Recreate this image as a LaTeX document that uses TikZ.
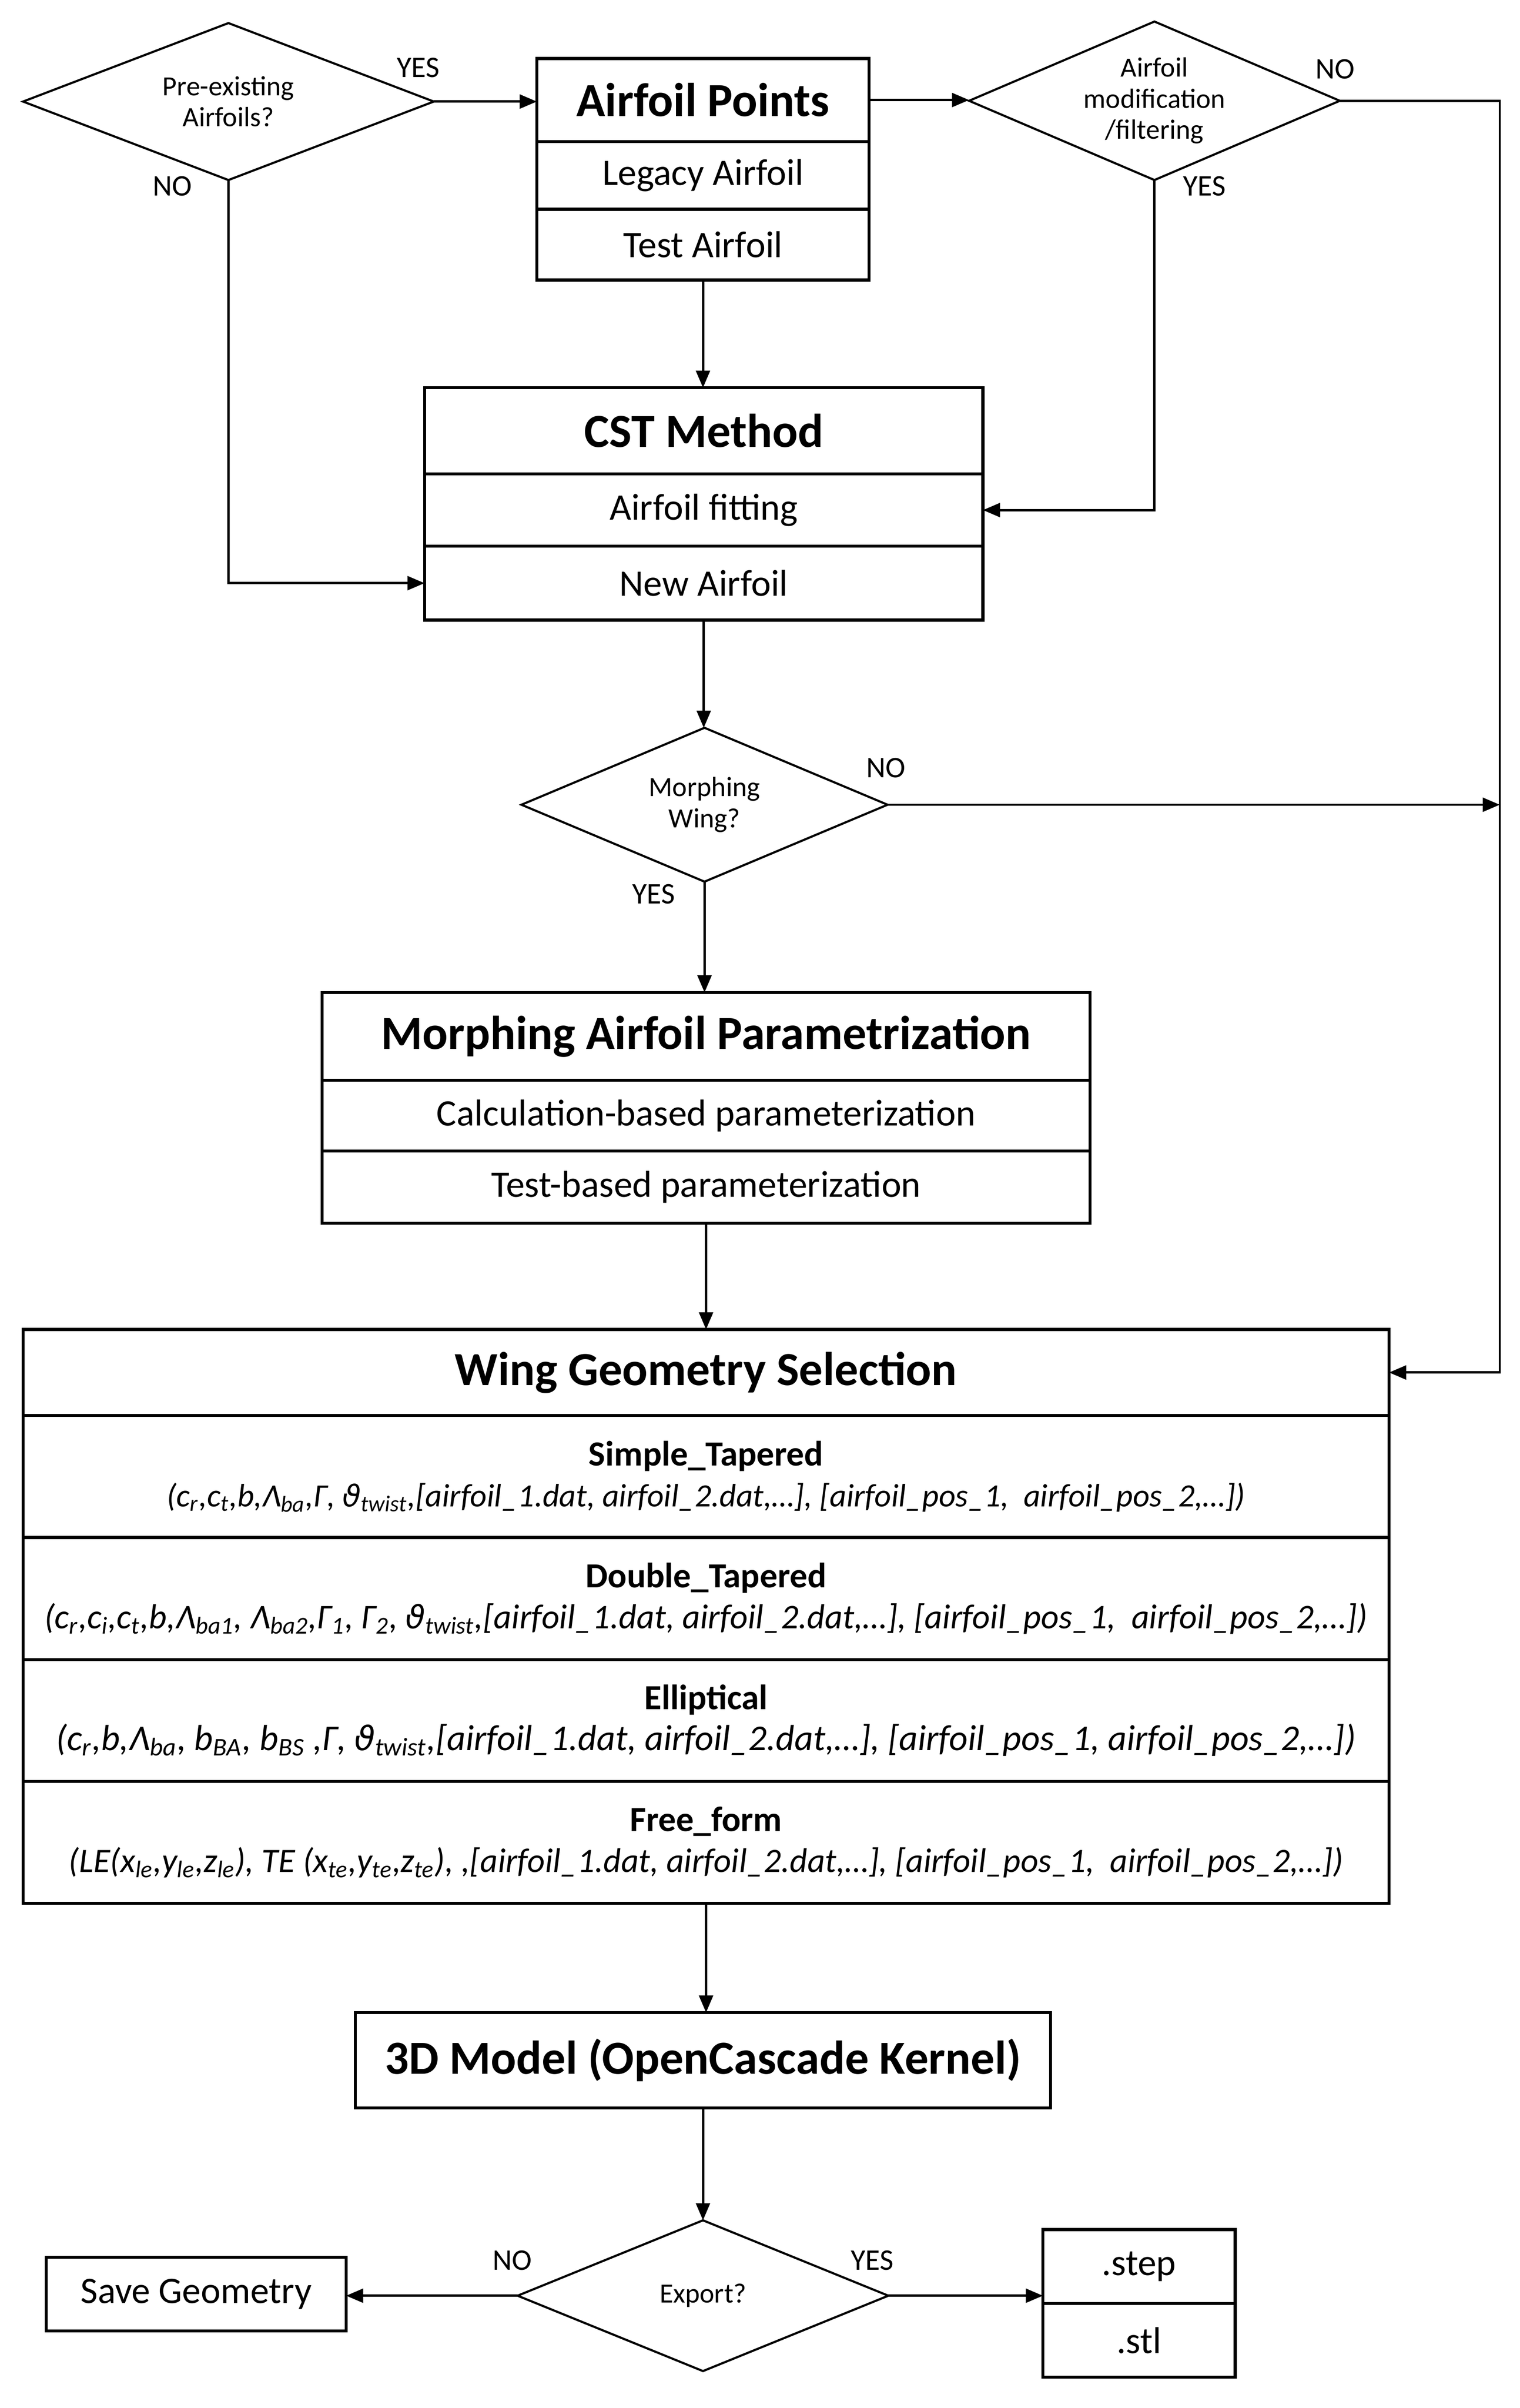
\documentclass[tikz,border=0pt]{standalone}
\usepackage{fontspec}
\setmainfont{Carlito}
\newfontfamily\symfont[Scale=0.92]{DejaVu Sans}
\usetikzlibrary{shapes.geometric,arrows.meta,positioning}
\newcommand{\sbs}[1]{\textsubscript{#1}}
\newcommand{\twist}{{\symfont ϑ}\sbs{twist}}
\tikzset{
  box/.style={draw, line width=1.4pt, inner sep=0pt, outer sep=0pt, align=center},
  hdr/.style={box, font=\fontsize{22.2}{25}\selectfont\bfseries},
  cell/.style={box, font=\fontsize{17.5}{20}\selectfont},
  geo/.style={box, minimum width=22.466cm, minimum height=2.005cm, font=\fontsize{16.5}{19}\selectfont},
  ask/.style={draw, diamond, line width=1pt, inner sep=0pt, outer sep=0pt, align=center, font=\fontsize{13}{14.5}\selectfont},
  lbl/.style={font=\fontsize{14}{16}\selectfont, inner sep=0pt},
  arr/.style={-{Triangle[length=8pt,width=6.5pt]}, line width=1.1pt},
}
\begin{document}
\begin{tikzpicture}[x=0.0253cm, y=-0.0253cm]
\useasboundingbox (0,0) rectangle (988,1565);

\node[ask, minimum width=6.755cm, minimum height=2.581cm, aspect=2.6] (pre) at (148.5,66) {Pre-existing\\Airfoils?};
\node[hdr, minimum width=5.465cm, minimum height=1.366cm] (ap) at (457,65) {Airfoil Points};
\node[cell, minimum width=5.465cm, minimum height=1.113cm, below=0pt of ap] (legacy) {Legacy Airfoil};
\node[cell, minimum width=5.465cm, minimum height=1.164cm, below=0pt of legacy] (testaf) {Test Airfoil};
\node[ask, minimum width=6.097cm, minimum height=2.606cm, aspect=2.3] (mod) at (750.5,65.5) {Airfoil\\modification\\/filtering};
\coordinate (rail) at (975,0);

\node[hdr, minimum width=9.184cm, minimum height=1.417cm] (cst) at (457.5,280) {CST Method};
\node[cell, minimum width=9.184cm, minimum height=1.189cm, below=0pt of cst] (fit) {Airfoil fitting};
\node[cell, minimum width=9.184cm, minimum height=1.214cm, below=0pt of fit] (newaf) {New Airfoil};

\node[ask, minimum width=6.021cm, minimum height=2.53cm, aspect=2.3] (morph) at (458,523) {Morphing\\Wing?};

\node[hdr, minimum width=12.625cm, minimum height=1.442cm] (map) at (459,673.5) {Morphing Airfoil Parametrization};
\node[cell, minimum width=12.625cm, minimum height=1.164cm, below=0pt of map] (calcpar) {Calculation-based parameterization};
\node[cell, minimum width=12.625cm, minimum height=1.189cm, below=0pt of calcpar] (testpar) {Test-based parameterization};

% wing geometry table
\node[hdr, minimum width=22.466cm, minimum height=1.417cm] (wgs) at (459,892) {Wing Geometry Selection};
\node[geo, below=0pt of wgs] (simple) {\textbf{Simple\_Tapered}\\\fontsize{15.2}{19}\selectfont\itshape (c\sbs{r},c\sbs{t},b,Λ\sbs{ba},Γ,\ \twist,[airfoil\_1.dat, airfoil\_2.dat,…], [airfoil\_pos\_1,\ \ airfoil\_pos\_2,…])};
\node[geo, below=0pt of simple] (double) {\textbf{Double\_Tapered}\\\fontsize{16.2}{19}\selectfont\itshape (c\sbs{r},c\sbs{i},c\sbs{t},b,Λ\sbs{ba1}, Λ\sbs{ba2},Γ\sbs{1}, Γ\sbs{2}, \twist,[airfoil\_1.dat, airfoil\_2.dat,…], [airfoil\_pos\_1,\ \ airfoil\_pos\_2,…])};
\node[geo, below=0pt of double] (ellip) {\textbf{Elliptical}\\\fontsize{17}{19}\selectfont\itshape (c\sbs{r},b,Λ\sbs{ba}, b\sbs{BA}, b\sbs{BS} ,Γ, \twist,[airfoil\_1.dat, airfoil\_2.dat,…], [airfoil\_pos\_1, airfoil\_pos\_2,…])};
\node[geo, below=0pt of ellip] (free) {\textbf{Free\_form}\\\fontsize{16}{19}\selectfont\itshape (LE(x\sbs{le},y\sbs{le},z\sbs{le}), TE (x\sbs{te},y\sbs{te},z\sbs{te}), ,[airfoil\_1.dat, airfoil\_2.dat,…], [airfoil\_pos\_1,\ \ airfoil\_pos\_2,…])};

\node[hdr, minimum width=11.436cm, minimum height=1.569cm] (model) at (457,1339) {3D Model (OpenCascade Kernel)};
\node[ask, minimum width=6.097cm, minimum height=2.479cm, aspect=2.4] (export) at (457,1492) {Export?};
\node[cell, minimum width=4.934cm, minimum height=1.214cm] (save) at (127.5,1491) {Save Geometry};
\node[cell, minimum width=3.163cm, minimum height=1.214cm] (step) at (740.5,1473) {.step};
\node[cell, minimum width=3.163cm, minimum height=1.214cm, below=0pt of step] (stl) {.stl};

\node[lbl] (yes1) at (272,44) {YES};
\node[lbl] (no1) at (112,121) {NO};
\node[lbl] (no2) at (868,45) {NO};
\node[lbl] (yes2) at (783,121) {YES};
\node[lbl] (no3) at (576,499) {NO};
\node[lbl] (yes3) at (425,581) {YES};
\node[lbl] (no4) at (333,1469) {NO};
\node[lbl] (yes4) at (567,1469) {YES};

\draw[arr] (pre.east) -- (pre.east -| ap.west);
\draw[arr] (ap.east) -- (ap.east -| mod.west);
\draw[arr] (mod.east) -- (mod.east -| rail) |- (wgs.east);
\draw[arr] (mod.south) |- (fit.east);
\draw[arr] (testaf.south) -- (testaf.south |- cst.north);
\draw[arr] (pre.south) |- (newaf.west);
\draw[arr] (newaf.south) -- (newaf.south |- morph.north);
\draw[arr] (morph.east) -- (morph.east -| rail);
\draw[arr] (morph.south) -- (morph.south |- map.north);
\draw[arr] (testpar.south) -- (wgs.north);
\draw[arr] (free.south) -- (free.south |- model.north);
\draw[arr] (model.south) -- (export.north);
\draw[arr] (export.west) -- (export.west -| save.east);
\draw[arr] (export.east) -- (export.east -| step.west);

\end{tikzpicture}
\end{document}
